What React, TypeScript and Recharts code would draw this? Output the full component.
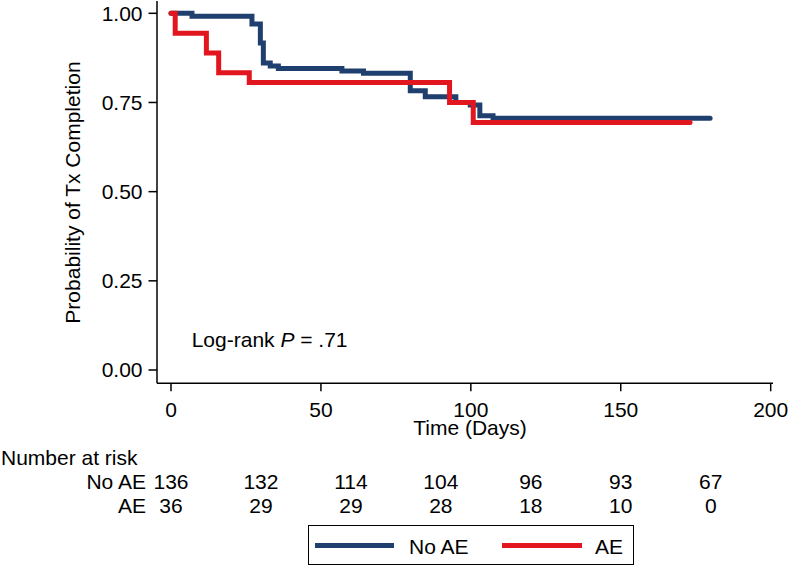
import * as React from 'react';
import { LineChart, Line, XAxis, YAxis, Legend, Label } from 'recharts';

// Kaplan-Meier steps (days, probability)
const noAeTime = [0, 7, 27, 29.8, 30.8, 33.1, 35.8, 57, 64.2, 79.8, 84.8, 95, 99.8, 103, 107.4, 179.8];
const noAeSurv = [1, 0.992, 0.97, 0.917, 0.861, 0.852, 0.845, 0.838, 0.832, 0.783, 0.766, 0.75, 0.743, 0.713, 0.706, 0.706];
const aeTime = [0, 1.4, 11.8, 15.9, 26.1, 92.9, 100.8, 173.1];
const aeSurv = [1, 0.944, 0.889, 0.833, 0.806, 0.75, 0.694, 0.694];

const xTicks = [0, 50, 100, 150, 200];
const yTicks = [0, 0.25, 0.5, 0.75, 1];

// number at risk table
const riskDays = [0, 30, 60, 90, 120, 150, 180];
const riskNoAe = [136, 132, 114, 104, 96, 93, 67];
const riskAe = [36, 29, 29, 28, 18, 10, 0];

const seriesOrder = ['No AE', 'AE'];

const BLUE = '#1f3f6e';
const RED = '#e2161e';
const FONT = 21;
const X_DOMAIN = [-4.67, 200.77];

const noAeData = noAeTime.map((t, i) => ({ t, s: noAeSurv[i] }));
const aeData = aeTime.map((t, i) => ({ t, s: aeSurv[i] }));
const riskData = riskDays.map((t, i) => ({ t, n: riskNoAe[i] }));

const RiskTick = (props: any) => {
    const { x, y, index } = props;
    return (
        <g fontSize={FONT} fill="#000">
            {index === 0 && (
                <>
                    <text x={1} y={y + 19.7} textAnchor="start">Number at risk</text>
                    <text x={x - 25} y={y + 44} textAnchor="end">No AE</text>
                    <text x={x - 25} y={y + 68} textAnchor="end">AE</text>
                </>
            )}
            <text x={x} y={y + 44} textAnchor="middle">{riskNoAe[index]}</text>
            <text x={x} y={y + 68} textAnchor="middle">{riskAe[index]}</text>
        </g>
    );
};

const renderLegend = (props: any) => {
    const items = (props.payload || [])
        .filter((it: any) => seriesOrder.includes(it.value))
        .sort((a: any, b: any) => seriesOrder.indexOf(a.value) - seriesOrder.indexOf(b.value));
    const spots = [
        { line: 6.9, w: 79, text: 100.5 },
        { line: 193.9, w: 80, text: 286.4 },
    ];
    return (
        <div style={{
            boxSizing: 'border-box', width: 326.4, height: 40, border: '1.5px solid #000',
            position: 'relative', background: '#fff', fontSize: FONT,
        }}>
            {items.map((it: any, i: number) => (
                <React.Fragment key={it.value}>
                    <div style={{ position: 'absolute', left: spots[i].line, top: 16.7, width: spots[i].w, height: 5, background: it.color }} />
                    <div style={{ position: 'absolute', left: spots[i].text, top: 9.5, lineHeight: '21px', whiteSpace: 'nowrap' }}>{it.value}</div>
                </React.Fragment>
            ))}
        </div>
    );
};

export default function App() {
    return (
        <div style={{ position: 'absolute', left: 0, top: 0, fontFamily: '"Liberation Sans", Arial, sans-serif' }}>
            <LineChart width={788} height={566} margin={{ top: 1, right: 15, left: 0, bottom: 5.7 }}>
                <XAxis xAxisId="a_time" dataKey="t" type="number" domain={X_DOMAIN} allowDataOverflow
                    ticks={xTicks} interval={0} height={62} tickSize={8} tickMargin={11}
                    axisLine={{ stroke: '#000', strokeWidth: 1.5 }} tickLine={{ stroke: '#000', strokeWidth: 1.5 }}
                    tick={{ fontSize: FONT, fill: '#000' }}>
                    <Label content={(p: any) => {
                        const vb = p.viewBox;
                        return <text x={vb.x + vb.width / 2 + 5} y={vb.y + 51.5} textAnchor="middle" fontSize={FONT} fill="#000">Time (Days)</text>;
                    }} />
                </XAxis>
                <XAxis xAxisId="b_risk" dataKey="t" type="number" domain={X_DOMAIN} allowDataOverflow
                    ticks={riskDays} interval={0} height={75} tickSize={0} tickMargin={0}
                    axisLine={false} tickLine={false} tick={<RiskTick />} />
                <YAxis type="number" domain={[-0.0373, 1.0345]} allowDataOverflow ticks={yTicks} interval={0}
                    width={157} tickSize={8.5} tickMargin={6} tickFormatter={(v: number) => v.toFixed(2)}
                    axisLine={{ stroke: '#000', strokeWidth: 1.5 }} tickLine={{ stroke: '#000', strokeWidth: 1.5 }}
                    tick={{ fontSize: FONT, fill: '#000' }}>
                    <Label content={(p: any) => {
                        const vb = p.viewBox;
                        const cx = vb.x + 80;
                        const cy = vb.y + vb.height / 2 + 0.4;
                        return <text x={cx} y={cy} transform={`rotate(-90, ${cx}, ${cy})`} textAnchor="middle" fontSize={FONT} fill="#000">Probability of Tx Completion</text>;
                    }} />
                </YAxis>
                <Legend content={renderLegend} wrapperStyle={{ left: 307.6, top: 525, bottom: 'auto', width: 326.4, height: 40 }} />
                {/* hidden series that ties the at-risk axis to the data */}
                <Line xAxisId="b_risk" yAxisId={0} data={riskData} dataKey="n" name="risk" stroke="none" legendType="none"
                    dot={false} activeDot={false} isAnimationActive={false} />
                <Line xAxisId="a_time" data={noAeData} dataKey="s" name="No AE" type="stepAfter" stroke={BLUE}
                    strokeWidth={5} strokeLinecap="round" dot={false} activeDot={false} isAnimationActive={false} />
                <Line xAxisId="a_time" data={aeData} dataKey="s" name="AE" type="stepAfter" stroke={RED}
                    strokeWidth={5} strokeLinecap="round" dot={false} activeDot={false} isAnimationActive={false} />
                <text x={191.7} y={347.3} fontSize={FONT} fill="#000">
                    Log-rank <tspan fontStyle="italic">P</tspan> = .71
                </text>
            </LineChart>
        </div>
    );
}
